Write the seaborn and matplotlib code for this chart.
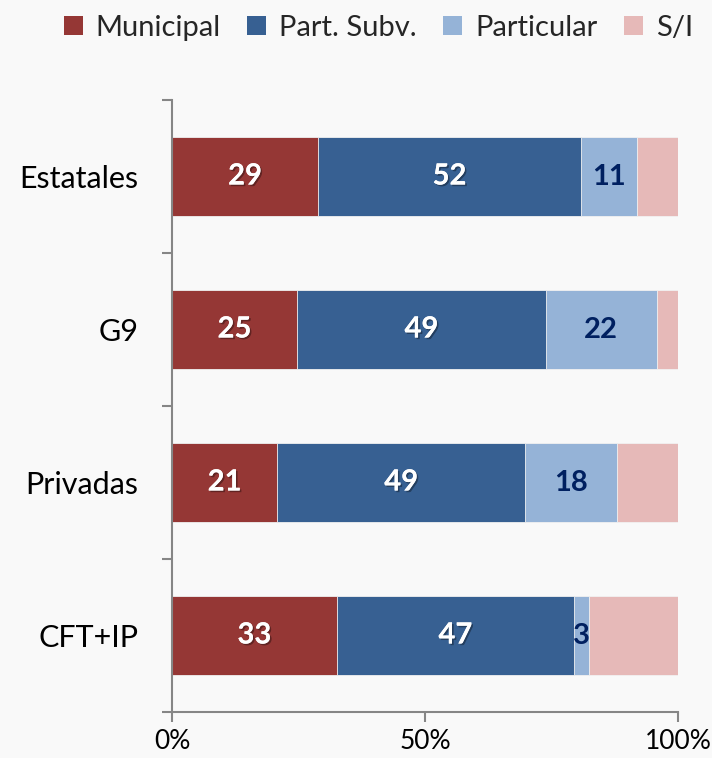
import numpy as np
import pandas as pd
import matplotlib
matplotlib.use("Agg")
import matplotlib.pyplot as plt
import matplotlib.patheffects as pe
from matplotlib.patches import Patch
import seaborn as sns

categories = ["Estatales", "G9", "Privadas", "CFT+IP"]
series_names = ["Municipal", "Part. Subv.", "Particular", "S/I"]
municipal = [28.9, 24.7, 20.8, 32.6]
part_subv = [51.9, 49.2, 49.0, 46.8]
particular = [11.1, 21.9, 18.2, 3.0]
s_i = [8.1, 4.2, 12.0, 17.6]
x_ticks = [0, 50, 100]
x_tick_labels = ["0%", "50%", "100%"]

colors = ["#953735", "#376092", "#95B3D7", "#E6B9B8"]
label_colors = ["white", "white", "#002060", None]
bg = "#F9F9F9"

sns.set_theme(style="white")
plt.rcParams["font.family"] = ["Lato", "DejaVu Sans"]

df = pd.DataFrame({"cat": categories, "Municipal": municipal,
                   "Part. Subv.": part_subv, "Particular": particular, "S/I": s_i})
vals = df[series_names].to_numpy()
cum = np.cumsum(vals, axis=1)

fig = plt.figure(figsize=(7.12, 7.58), dpi=100, facecolor=bg)
ax = fig.add_axes([172/712, 46/758, 506/712, 612/758])
ax.set_facecolor(bg)

# draw cumulative totals from longest to shortest so segments stack
for i in range(len(series_names) - 1, -1, -1):
    d = pd.DataFrame({"cat": categories, "val": cum[:, i]})
    sns.barplot(data=d, x="val", y="cat", order=categories, orient="h",
                color=colors[i], saturation=1, width=0.52, ax=ax,
                edgecolor="#F2F2F2", linewidth=0.6)

# labels
for r in range(len(categories)):
    for i in range(3):
        left = cum[r, i] - vals[r, i]
        xc = left + vals[r, i] / 2
        txt = ax.text(xc, r, f"{vals[r, i]:.0f}", ha="center", va="center",
                      fontsize=21, fontweight="bold", color=label_colors[i])
        if label_colors[i] == "white":
            txt.set_path_effects([pe.withSimplePatchShadow(offset=(1.2, -1.2),
                                  shadow_rgbFace="black", alpha=0.35), pe.Normal()])

ax.set_xlim(0, 100)
ax.set_ylim(3.5, -0.5)
ax.set_xlabel("")
ax.set_ylabel("")
ax.set_xticks(x_ticks)
ax.set_xticklabels(x_tick_labels, fontsize=19)
ax.set_yticks(range(len(categories)))
ax.set_yticklabels(categories, fontsize=22)
ax.set_yticks(np.arange(-0.5, len(categories)), minor=True)

for s in ["top", "right"]:
    ax.spines[s].set_visible(False)
for s in ["left", "bottom"]:
    ax.spines[s].set_color("#868686")
    ax.spines[s].set_linewidth(1.5)

ax.tick_params(axis="y", which="major", left=False, length=0, pad=24, labelcolor="black")
ax.tick_params(axis="y", which="minor", left=True, length=7, width=1.5,
               color="#868686", direction="out")
ax.tick_params(axis="x", which="major", bottom=True, length=7, width=1.5, color="#868686",
               direction="out", pad=5, labelcolor="black")
ax.grid(False)

handles = [Patch(facecolor=c, edgecolor="none") for c in colors]
fig.legend(handles, series_names, loc="upper right", bbox_to_anchor=(1.01, 1.015),
           ncol=4, frameon=False, fontsize=21, handlelength=0.65, handleheight=0.65,
           handletextpad=0.45, columnspacing=0.9)

fig.savefig("out.png", dpi=100, facecolor=bg)
